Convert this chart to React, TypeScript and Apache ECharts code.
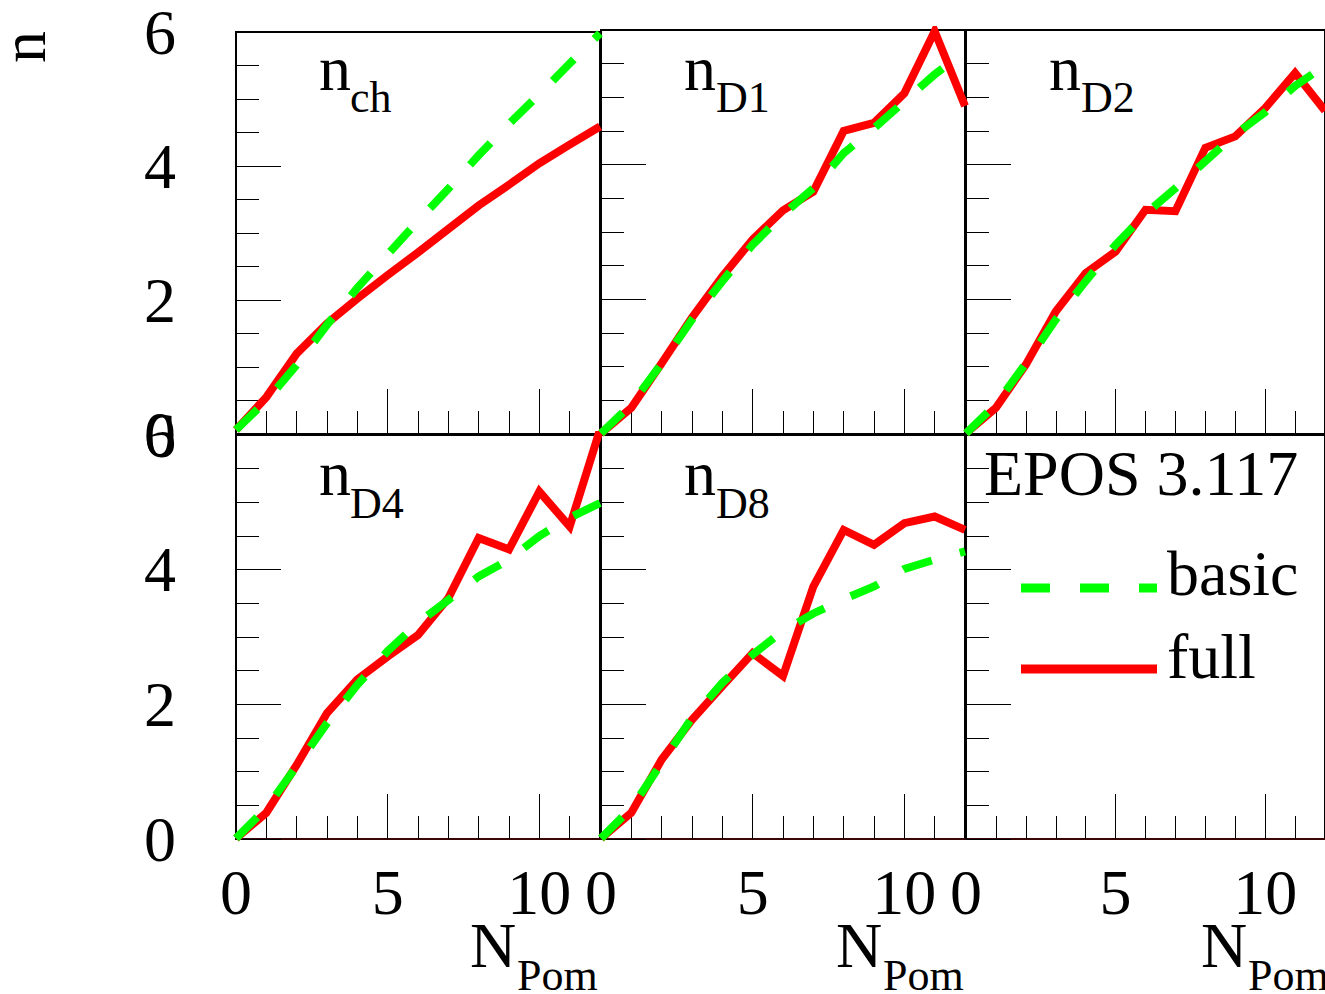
import React, { useEffect, useRef } from "react";
import * as echarts from "echarts";

// ---- data ----
const nPom = [0, 1, 2, 3, 4, 5, 6, 7, 8, 9, 10, 11, 12];
const xTickValues = [0, 5, 10];
const yTickValues = [0, 2, 4, 6];
const panelSubs = ["ch", "D1", "D2", "D4", "D8"];

const fullCh = [0.06, 0.55, 1.2, 1.65, 2.02, 2.37, 2.71, 3.06, 3.41, 3.72, 4.04, 4.32, 4.59];
const basicCh = [0.06, 0.5, 1.03, 1.63, 2.18, 2.68, 3.18, 3.66, 4.16, 4.63, 5.07, 5.53, 5.98];

const fullD1 = [0.01, 0.39, 1.05, 1.73, 2.34, 2.89, 3.32, 3.6, 4.5, 4.62, 5.06, 5.98, 4.87];
const basicD1 = [0.01, 0.44, 1.05, 1.7, 2.27, 2.81, 3.26, 3.65, 4.17, 4.54, 4.94, 5.34, 5.68];

const fullD2 = [0.01, 0.39, 1.03, 1.82, 2.39, 2.71, 3.33, 3.31, 4.25, 4.42, 4.84, 5.36, 4.8];
const basicD2 = [0.01, 0.44, 1.05, 1.7, 2.27, 2.81, 3.27, 3.65, 4.05, 4.45, 4.78, 5.17, 5.47];

const fullD4 = [0.01, 0.39, 1.1, 1.87, 2.37, 2.71, 3.03, 3.58, 4.47, 4.3, 5.16, 4.64, 6.08];
const basicD4 = [0.01, 0.46, 1.08, 1.72, 2.29, 2.79, 3.21, 3.55, 3.9, 4.15, 4.5, 4.77, 4.99];

const fullD8 = [0.01, 0.39, 1.18, 1.77, 2.27, 2.76, 2.42, 3.75, 4.59, 4.37, 4.69, 4.79, 4.59];
const basicD8 = [0.01, 0.46, 1.13, 1.8, 2.32, 2.74, 3.09, 3.35, 3.56, 3.75, 4.01, 4.15, 4.27];

const fullSeries = [fullCh, fullD1, fullD2, fullD4, fullD8];
const basicSeries = [basicCh, basicD1, basicD2, basicD4, basicD8];

const nameBasic = "basic";
const nameFull = "full";
const modelLabel = "EPOS 3.117";
const xTitleMain = "N";
const xTitleSub = "Pom";
const yTitle = "n";
const panelMain = "n";

// ---- layout / style ----
const FONT = "'Liberation Serif', 'Times New Roman', Times, serif";
const FS = 64;
const FS_SUB = 44;
const RED = "#ff0000";
const GREEN = "#00ff00";
const colLeft = [236, 601, 966];
const rowTop = [30, 435];
const W = 364;
const H = 404;
const DASH = [30, 29];

function textAt(text: string, x: number, baseline: number, fs: number) {
  return {
    type: "text",
    x,
    y: baseline - 0.3375 * fs,
    z: 100,
    silent: true,
    style: {
      text,
      fontSize: fs,
      fontFamily: FONT,
      fill: "#000",
      align: "left",
      verticalAlign: "middle",
    },
  };
}

export default function App() {
  const ref = useRef<HTMLDivElement>(null);

  useEffect(() => {
    if (!ref.current) return;
    const chart = echarts.init(ref.current, undefined, { renderer: "svg" });

    const grids: any[] = [];
    const xAxes: any[] = [];
    const yAxes: any[] = [];
    const series: any[] = [];

    for (let g = 0; g < 6; g++) {
      const col = g % 3;
      const row = Math.floor(g / 3);
      grids.push({
        left: colLeft[col],
        top: rowTop[row],
        width: W,
        height: H,
        show: true,
        borderColor: "#000",
        borderWidth: 2,
        backgroundColor: "transparent",
      });
      xAxes.push({
        type: "value",
        gridIndex: g,
        position: "bottom",
        min: nPom[0],
        max: nPom[nPom.length - 1],
        interval: xTickValues[1] - xTickValues[0],
        axisLine: { show: true, onZero: false, lineStyle: { color: row === 1 ? "#3a0505" : "#000", width: 2 } },
        axisTick: { show: true, inside: true, length: 45, lineStyle: { color: "#000", width: 1 } },
        axisLabel: {
          show: row === 1,
          margin: 21,
          fontSize: FS,
          fontFamily: FONT,
          color: "#000",
          showMaxLabel: false,
          showMinLabel: true,
        },
        splitLine: { show: false },
      });
      xAxes.push({
        type: "value",
        gridIndex: g,
        position: "bottom",
        min: nPom[0],
        max: nPom[nPom.length - 1],
        interval: 1,
        axisLine: { show: false },
        axisTick: { show: true, inside: true, length: 23, lineStyle: { color: "#000", width: 1 } },
        axisLabel: { show: false },
        splitLine: { show: false },
      });
      yAxes.push({
        type: "value",
        gridIndex: g,
        position: "left",
        min: yTickValues[0],
        max: yTickValues[yTickValues.length - 1],
        interval: yTickValues[1] - yTickValues[0],
        axisLine: { show: true, onZero: false, lineStyle: { color: "#000", width: 2 } },
        axisTick: { show: true, inside: true, length: 45, lineStyle: { color: "#000", width: 1 } },
        minorTick: { show: true, splitNumber: 4, length: 23, lineStyle: { color: "#000", width: 1 } },
        axisLabel: {
          show: col === 0,
          margin: 60,
          fontSize: FS,
          fontFamily: FONT,
          color: "#000",
          showMinLabel: true,
          showMaxLabel: true,
        },
        splitLine: { show: false },
        minorSplitLine: { show: false },
      });
    }

    for (let p = 0; p < 5; p++) {
      series.push({
        name: nameFull,
        type: "line",
        xAxisIndex: 2 * p,
        yAxisIndex: p,
        data: nPom.map((x, i) => [x, fullSeries[p][i]]),
        symbol: "none",
        showSymbol: false,
        clip: true,
        silent: true,
        z: 2,
        lineStyle: { color: RED, width: 8, cap: "butt", join: "miter" },
        itemStyle: { color: RED },
      });
      series.push({
        name: nameBasic,
        type: "line",
        xAxisIndex: 2 * p,
        yAxisIndex: p,
        data: nPom.map((x, i) => [x, basicSeries[p][i]]),
        symbol: "none",
        showSymbol: false,
        clip: true,
        silent: true,
        z: 3,
        lineStyle: { color: GREEN, width: 8, type: DASH, cap: "butt", join: "miter" },
        itemStyle: { color: GREEN },
      });
    }

    const graphics: any[] = [];
    // y-axis title
    graphics.push({
      type: "text",
      x: 23,
      y: 47,
      rotation: Math.PI / 2,
      z: 100,
      silent: true,
      style: { text: yTitle, fontSize: FS, fontFamily: FONT, fill: "#000", align: "center", verticalAlign: "middle" },
    });
    // panel labels
    const labelPos = [
      [319, 90, 350, 112],
      [684, 90, 716, 112],
      [1049, 90, 1081, 112],
      [319, 495, 350, 518],
      [684, 495, 716, 518],
    ];
    panelSubs.forEach((sub, i) => {
      const [x1, b1, x2, b2] = labelPos[i];
      graphics.push(textAt(panelMain, x1, b1, FS));
      graphics.push(textAt(sub, x2, b2, FS_SUB));
    });
    // x-axis titles
    [470, 836, 1201].forEach((x) => {
      graphics.push(textAt(xTitleMain, x, 967, FS));
      graphics.push(textAt(xTitleSub, x + 47, 990, FS_SUB));
    });
    // model label and legend
    graphics.push(textAt(modelLabel, 984, 495, FS));
    graphics.push({
      type: "line",
      z: 100,
      silent: true,
      shape: { x1: 1021, y1: 588, x2: 1157, y2: 588 },
      style: { stroke: GREEN, lineWidth: 9, lineDash: [29, 30], lineCap: "butt" },
    });
    graphics.push(textAt(nameBasic, 1167, 595, FS));
    graphics.push({
      type: "line",
      z: 100,
      silent: true,
      shape: { x1: 1021, y1: 669, x2: 1157, y2: 669 },
      style: { stroke: RED, lineWidth: 9, lineCap: "butt" },
    });
    graphics.push(textAt(nameFull, 1167, 678, FS));

    chart.setOption({
      animation: false,
      backgroundColor: "#fff",
      grid: grids,
      xAxis: xAxes,
      yAxis: yAxes,
      series,
      graphic: graphics,
    });

    return () => {
      chart.dispose();
    };
  }, []);

  return (
    <div
      ref={ref}
      style={{ position: "fixed", left: 0, top: 0, width: 1325, height: 994, background: "#fff" }}
    />
  );
}
